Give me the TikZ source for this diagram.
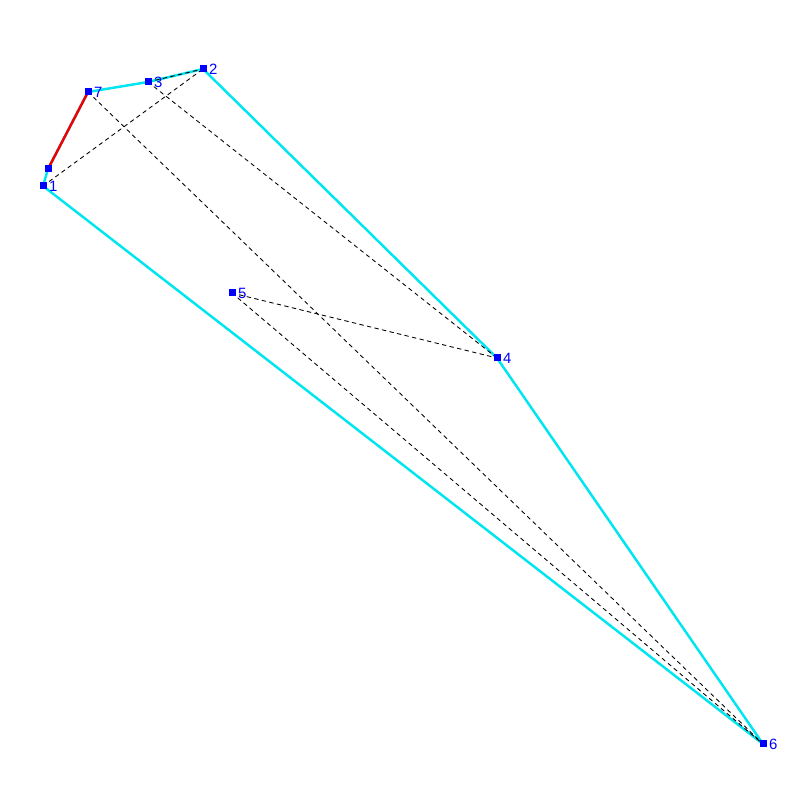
\documentclass[tikz,border=0pt]{standalone}
\usepackage{fontspec}
\setsansfont{Liberation Sans}
\usepackage{tkz-euclide}
\definecolor{HullClr}{RGB}{0,230,240}
\definecolor{PtClr}{RGB}{0,0,255}
\definecolor{EdgeClr}{RGB}{240,0,0}
\tikzset{sqr/.style={rectangle,fill=PtClr,inner sep=0pt,minimum size=0.14cm}}

\begin{document}
\begin{tikzpicture}
\useasboundingbox (0,0) rectangle (16,16);
\tkzSetUpLine[line width=1.4pt,color=HullClr]

\tkzDefPoints{0.86/12.28/P1,0.96/12.62/Q,1.76/14.16/P7,2.96/14.36/P3,4.06/14.62/P2}
\tkzDefPoints{9.94/8.84/P4,4.64/10.14/P5,15.26/1.12/P6}

\tkzDrawPolygon(P1,Q,P7,P3,P2,P4,P6)

\tkzDrawSegments[line width=0.5pt,color=black,dash pattern=on 2.2pt off 2.2pt](P1,P2 P3,P2 P3,P4 P7,P6 P5,P4 P5,P6)

\tkzDrawSegment[color=EdgeClr](Q,P7)

\foreach \p in {P1,Q,P7,P3,P2,P4,P5,P6}
  \node[sqr] at (\p) {};

\tkzLabelPoint[right,PtClr,font=\sffamily\fontsize{8.5}{10}\selectfont](P1){1}
\tkzLabelPoint[right,PtClr,font=\sffamily\fontsize{8.5}{10}\selectfont](P2){2}
\tkzLabelPoint[right,PtClr,font=\sffamily\fontsize{8.5}{10}\selectfont](P3){3}
\tkzLabelPoint[right,PtClr,font=\sffamily\fontsize{8.5}{10}\selectfont](P4){4}
\tkzLabelPoint[right,PtClr,font=\sffamily\fontsize{8.5}{10}\selectfont](P5){5}
\tkzLabelPoint[right,PtClr,font=\sffamily\fontsize{8.5}{10}\selectfont](P6){6}
\tkzLabelPoint[right,PtClr,font=\sffamily\fontsize{8.5}{10}\selectfont](P7){7}

\end{tikzpicture}
\end{document}
